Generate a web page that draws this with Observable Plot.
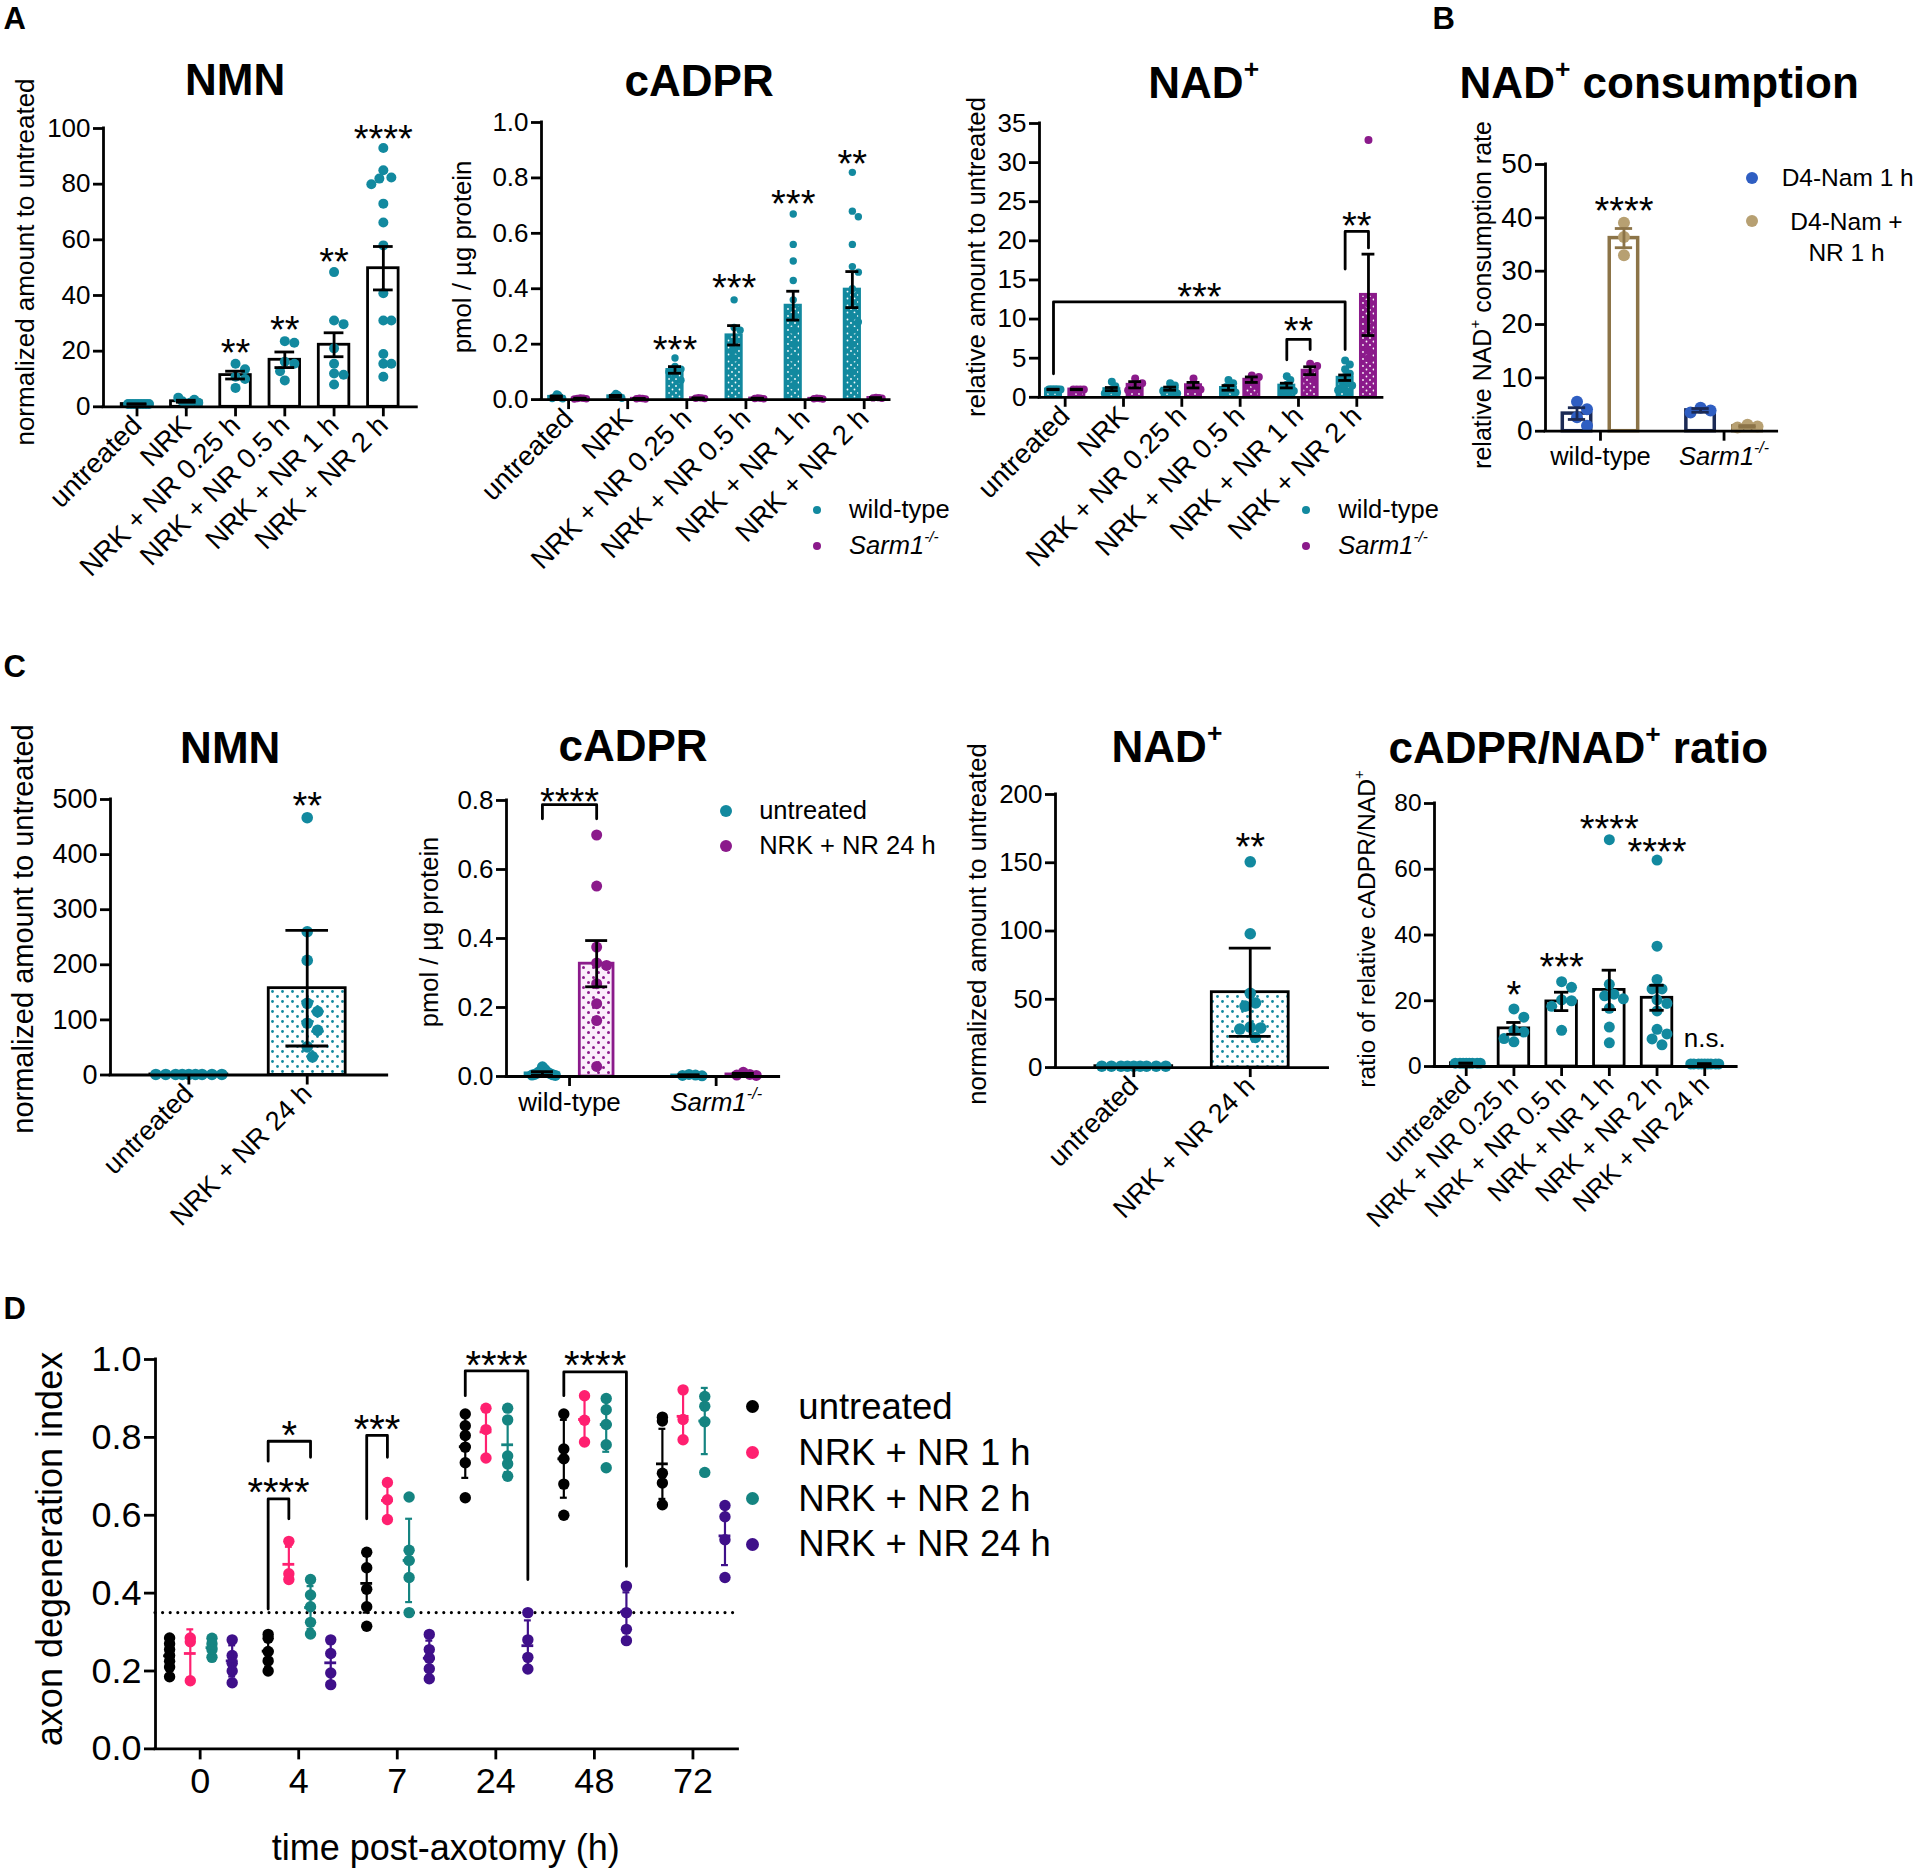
<!DOCTYPE html>
<html>
<head>
<meta charset="utf-8">
<script src="https://cdn.jsdelivr.net/npm/d3@7"></script>
<script src="https://cdn.jsdelivr.net/npm/@observablehq/plot@0.6"></script>
<style>
html,body{margin:0;padding:0;background:#fff;}
#fig{position:relative;width:1920px;height:1874px;overflow:hidden;font-family:"Liberation Sans",Arial,Helvetica,sans-serif;color:#000;background:#fff;}
.h{position:absolute;white-space:nowrap;line-height:1;}
.h sup{font-size:0.6em;position:relative;top:-0.75em;vertical-align:baseline;line-height:0;}
.dot{position:absolute;border-radius:50%;}
</style>
</head>
<body>
<div id="fig"></div>
<script>
// ================= DATA =================
// Panel A
const aCats = ["untreated", "NRK", "NRK + NR 0.25 h", "NRK + NR 0.5 h", "NRK + NR 1 h", "NRK + NR 2 h"];
const aNmnMean = [1, 2.0, 11.4, 16.9, 22.3, 49.8];
const aNmnSem = [0.05, 0.35, 1.4, 2.8, 4.3, 7.8];
const aNmnPoints = [
  [1, 1, 1, 1, 1, 1, 1, 1],
  [1.0, 1.5, 2.0, 2.5, 3.3, 1.5],
  [15.5, 13.5, 10.8, 10.0, 6.8],
  [23.6, 23.0, 16.2, 15.5, 12.8, 9.5],
  [48.4, 31.0, 29.7, 21.0, 15.5, 12.0, 11.5, 8.0],
  [93, 85, 82.4, 82, 80, 73, 66.2, 58, 40.8, 31, 31, 19, 15.5, 15.5, 10.8]
];
const aNmnStars = ["", "", "**", "**", "**", "****"];
const aNmnStarY = [0, 0, 22.7, 31, 55.2, 99.3];

const aCadprWtMean = [0.010, 0.012, 0.107, 0.232, 0.339, 0.397];
const aCadprWtSem = [0.003, 0.003, 0.012, 0.035, 0.052, 0.065];
const aCadprKoMean = [0.004, 0.003, 0.005, 0.004, 0.003, 0.006];
const aCadprKoSem = [0.001, 0.001, 0.001, 0.001, 0.001, 0.001];
const aCadprWtPoints = [
  [0.02, 0.018, 0.012, 0.01, 0.008, 0.006, 0.004, 0.003],
  [0.022, 0.018, 0.014, 0.01, 0.008, 0.005],
  [0.15, 0.12, 0.11, 0.10, 0.09, 0.07],
  [0.36, 0.26, 0.25, 0.21, 0.18, 0.15],
  [0.67, 0.56, 0.50, 0.43, 0.36, 0.30, 0.25, 0.2, 0.15, 0.1, 0.05],
  [0.82, 0.68, 0.66, 0.56, 0.48, 0.46, 0.40, 0.35, 0.3, 0.28, 0.25, 0.2, 0.15, 0.1]
];
const aCadprKoPoints = [
  [0.006, 0.005, 0.004, 0.003, 0.002],
  [0.005, 0.004, 0.003, 0.002],
  [0.007, 0.006, 0.005, 0.004],
  [0.006, 0.005, 0.004, 0.003],
  [0.005, 0.004, 0.003, 0.002],
  [0.008, 0.007, 0.006, 0.005]
];
const aCadprStars = ["", "", "***", "***", "***", "**"];
const aCadprStarY = [0, 0, 0.211, 0.435, 0.739, 0.882];

const aNadWtMean = [1.0, 1.05, 1.1, 1.2, 1.5, 2.5];
const aNadWtSem = [0.03, 0.2, 0.2, 0.3, 0.3, 0.35];
const aNadKoMean = [1.0, 1.6, 1.55, 2.25, 3.4, 13.1];
const aNadKoSem = [0.03, 0.4, 0.35, 0.35, 0.5, 5.2];
const aNadWtPoints = [
  [1, 1, 1, 1, 1, 1, 1, 1],
  [2.0, 1.4, 1.0, 0.8, 0.6, 0.5],
  [1.8, 1.5, 1.0, 0.8, 0.6, 0.5],
  [2.2, 1.8, 1.3, 1.0, 0.6, 0.4],
  [2.7, 2.2, 1.6, 1.2, 1.0, 0.8, 0.5],
  [4.7, 4.2, 3.6, 3.0, 2.6, 2.2, 1.8, 1.5, 1.2, 0.9, 0.6]
];
const aNadKoPoints = [
  [1, 1, 1, 1],
  [2.4, 1.8, 1.2, 0.9],
  [2.4, 1.6, 1.2, 1.0],
  [2.8, 2.6, 2.0, 1.5],
  [4.3, 4.0, 3.1, 2.2],
  [32.9, 12, 10, 9, 6, 5]
];
const aNadBrackets = [
  {ga: 0, sa: 0, gb: 5, sb: 0, y: 12.2, ya: 3.0, yb: 6.1, label: "***", ly: 14.0},
  {ga: 4, sa: 0, gb: 4, sb: 1, y: 7.4, ya: 4.8, yb: 6.1, label: "**", ly: 9.6},
  {ga: 5, sa: 0, gb: 5, sb: 1, y: 21.2, ya: 16.4, yb: 19.1, label: "**", ly: 23.0}
];

// Panel B
const bCats = ["wild-type", "Sarm1-/-"];
const bNamMean = [3.3, 3.9];
const bNamSem = [1.1, 0.35];
const bNamPoints = [[5.5, 4.1, 2.6, 1.0], [4.4, 3.9, 3.5]];
const bNamNrMean = [36.2, 0.9];
const bNamNrSem = [1.8, 0.15];
const bNamNrPoints = [[39.1, 36.4, 33.0], [1.2, 0.9, 0.7]];
const bStars = [{g: 0, s: 1, label: "****", y: 43}];

// Panel C
const cTwoCats = ["untreated", "NRK + NR 24 h"];
const cNmnMean = [1, 157.6];
const cNmnSd = [0, 105];
const cNmnPoints = [[1, 1, 1, 1, 1, 1, 1, 1, 1], [467, 260, 208, 130, 115, 94, 81, 51, 33]];
const cNmnStars = [{g: 1, label: "**", y: 505}];

const cCadprCats = ["wild-type", "Sarm1-/-"];
const cCadprUntMean = [0.009, 0.003];
const cCadprUntErr = [0.005, 0.002];
const cCadprUntPoints = [[0.028, 0.02, 0.015, 0.012, 0.01, 0.008, 0.006, 0.005, 0.004, 0.003], [0.006, 0.004, 0.003, 0.002]];
const cCadprNrMean = [0.327, 0.006];
const cCadprNrErr = [0.067, 0.003];
const cCadprNrPoints = [[0.70, 0.552, 0.375, 0.329, 0.322, 0.269, 0.211, 0.162, 0.029], [0.012, 0.006, 0.004, 0.003]];
const cCadprBrackets = [{ga: 0, sa: 0, gb: 0, sb: 1, y: 0.788, ya: 0.747, yb: 0.747, label: "****", ly: 0.822}];

const cNadMean = [1, 55.2];
const cNadSd = [0, 32.3];
const cNadPoints = [[1, 1, 1, 1, 1, 1, 1, 1, 1], [150.7, 98, 54.4, 47.3, 45, 29.6, 29, 28.2, 22]];
const cNadStars = [{g: 1, label: "**", y: 168}];

const cRatioCats = ["untreated", "NRK + NR 0.25 h", "NRK + NR 0.5 h", "NRK + NR 1 h", "NRK + NR 2 h", "NRK + NR 24 h"];
const cRatioMean = [1, 11.6, 19.8, 23.3, 20.9, 0.8];
const cRatioErr = [0.05, 1.8, 2.8, 6.0, 3.8, 0.05];
const cRatioPoints = [
  [1, 1, 1, 1, 1, 1, 1, 1],
  [17.5, 15, 11, 10.5, 8.5, 7.5],
  [25.8, 24.1, 20.3, 20, 18.3, 11],
  [69, 25, 22, 21.5, 20.6, 17.7, 12, 7.2],
  [62.8, 36.6, 26.5, 23.6, 23.6, 20.3, 19.2, 16.9, 11.3, 9.9, 8.4, 6.6],
  [0.8, 0.8, 0.8, 0.8, 0.8, 0.8, 0.8, 0.8, 0.8]
];
const cRatioStars = [
  {g: 1, label: "*", y: 24.4}, {g: 2, label: "***", y: 32.9}, {g: 3, label: "****", y: 75},
  {g: 4, label: "****", y: 68}, {g: 5, label: "n.s.", y: 8.5}
];

// Panel D
const dTimes = ["0", "4", "7", "24", "48", "72"];
const dSeriesNames = ["untreated", "NRK + NR 1 h", "NRK + NR 2 h", "NRK + NR 24 h"];
const dUntreatedPts = [
  [0.285, 0.27, 0.255, 0.24, 0.225, 0.21, 0.185],
  [0.294, 0.284, 0.25, 0.226, 0.2],
  [0.505, 0.465, 0.41, 0.365, 0.315],
  [0.86, 0.83, 0.805, 0.775, 0.735, 0.645],
  [0.86, 0.77, 0.745, 0.68, 0.60],
  [0.852, 0.842, 0.708, 0.683, 0.627]
];
const dNr1Pts = [
  [0.285, 0.275, 0.175], [0.533, 0.45, 0.435], [0.684, 0.64, 0.589],
  [0.875, 0.82, 0.747], [0.907, 0.844, 0.788], [0.922, 0.846, 0.794]
];
const dNr2Pts = [
  [0.284, 0.27, 0.255, 0.235],
  [0.435, 0.395, 0.365, 0.325, 0.295],
  [0.647, 0.51, 0.484, 0.44, 0.35],
  [0.875, 0.845, 0.752, 0.732, 0.70],
  [0.9, 0.871, 0.833, 0.781, 0.722],
  [0.905, 0.88, 0.84, 0.71]
];
const dNr24Pts = [
  [0.28, 0.24, 0.22, 0.2, 0.17],
  [0.28, 0.245, 0.195, 0.165],
  [0.294, 0.255, 0.233, 0.206, 0.18],
  [0.35, 0.28, 0.235, 0.205],
  [0.418, 0.35, 0.307, 0.278],
  [0.625, 0.596, 0.537, 0.44]
];
const dUntreatedMean = [0.239, 0.251, 0.425, 0.776, 0.745, 0.732];
const dUntreatedSd = [0.035, 0.04, 0.075, 0.08, 0.1, 0.09];
const dNr1Mean = [0.245, 0.474, 0.638, 0.814, 0.846, 0.854];
const dNr1Sd = [0.062, 0.045, 0.045, 0.064, 0.06, 0.065];
const dNr2Mean = [0.26, 0.363, 0.484, 0.781, 0.833, 0.842];
const dNr2Sd = [0.02, 0.055, 0.107, 0.07, 0.07, 0.085];
const dNr24Mean = [0.226, 0.221, 0.233, 0.265, 0.352, 0.547];
const dNr24Sd = [0.04, 0.05, 0.045, 0.065, 0.05, 0.075];
const dThreshold = [0.35];
const dBrackets = [
  {ga: 1, sa: 0, gb: 1, sb: 1, y: 0.642, ya: 0.359, yb: 0.591, label: "****", ly: 0.683},
  {ga: 1, sa: 0, gb: 1, sb: 2, y: 0.79, ya: 0.739, yb: 0.749, label: "*", ly: 0.83},
  {ga: 2, sa: 0, gb: 2, sb: 1, y: 0.805, ya: 0.591, yb: 0.749, label: "***", ly: 0.844},
  {ga: 3, sa: 0, gb: 3, sb: 3, y: 0.971, ya: 0.907, yb: 0.435, label: "****", ly: 1.01},
  {ga: 4, sa: 0, gb: 4, sb: 3, y: 0.968, ya: 0.907, yb: 0.469, label: "****", ly: 1.01}
];

// ================= STYLE / LAYOUT =================
const K = 1920 / 1568;
const FONT = '"Liberation Sans", Arial, Helvetica, sans-serif';
const SW = 2.8;
const TEAL = "#12899f", PURPLE = "#8b1a8b";
const BLUE = "#2f5ec2", NAVY = "#1b2a55", TAN = "#b7a072", TAN_D = "#8c7448";
const D_COLORS = ["#000000", "#ff2070", "#158481", "#3f108a"];

const fig = document.getElementById("fig");
fig.insertAdjacentHTML("beforeend", `<svg width="0" height="0" style="position:absolute"><defs>
<pattern id="tealSpeck" width="7" height="7" patternUnits="userSpaceOnUse"><rect width="7" height="7" fill="${TEAL}"/><circle cx="1.5" cy="1.5" r="0.9" fill="#fff"/><circle cx="5" cy="5" r="0.9" fill="#fff"/></pattern>
<pattern id="purpleSpeck" width="7" height="7" patternUnits="userSpaceOnUse"><rect width="7" height="7" fill="${PURPLE}"/><circle cx="1.5" cy="1.5" r="0.9" fill="#fff"/><circle cx="5" cy="5" r="0.9" fill="#fff"/></pattern>
<pattern id="tealDots" width="10" height="10" patternUnits="userSpaceOnUse"><rect width="10" height="10" fill="#fff"/><circle cx="2.5" cy="2.5" r="1.4" fill="${TEAL}"/><circle cx="7.5" cy="7.5" r="1.4" fill="${TEAL}"/></pattern>
<pattern id="purpleDots" width="10" height="10" patternUnits="userSpaceOnUse"><rect width="10" height="10" fill="#fbeefb"/><circle cx="2.5" cy="2.5" r="1.5" fill="${PURPLE}"/><circle cx="7.5" cy="7.5" r="1.5" fill="${PURPLE}"/></pattern>
</defs></svg>`);

// simple beeswarm: pixel-space collision avoidance, then squeezed to a maximum half-width
function swarm(vals, cx, r, pxX, pxY, gap, maxHalf) {
  const placed = [];
  const offs = vals.map(v => {
    const yp = v * pxY;
    let off = 0;
    for (let i = 0; i < 120; i++) {
      const c = i === 0 ? 0 : (i % 2 ? 1 : -1) * Math.ceil(i / 2) * r * gap * 0.5;
      if (placed.every(p => Math.hypot(p.x - c, p.y - yp) >= r * gap)) { off = c; break; }
    }
    placed.push({x: off, y: yp});
    return off;
  });
  const m = d3.max(offs, Math.abs) || 0;
  const f = maxHalf && m > maxHalf ? maxHalf / m : 1;
  return offs.map(o => cx + o * f / pxX);
}

function richLabels(svg) {
  const ns = "http://www.w3.org/2000/svg";
  svg.querySelectorAll("text").forEach(t => {
    if (t.textContent === "Sarm1-/-") {
      t.textContent = "";
      const a = document.createElementNS(ns, "tspan");
      a.textContent = "Sarm1"; a.setAttribute("font-style", "italic");
      const b = document.createElementNS(ns, "tspan");
      b.textContent = "-/-"; b.setAttribute("font-style", "italic");
      b.setAttribute("font-size", "0.62em"); b.setAttribute("dy", "-0.75em");
      t.append(a, b);
    }
  });
}

function buildPanel(p) {
  const fw = (p.L.x1 - p.L.x0) * K, fh = (p.L.y0 - p.L.yTop) * K;
  const pxX = fw / (p.xDomain[1] - p.xDomain[0]);
  const pxY = fh / (p.yDomain[1] - p.yDomain[0]);
  const M = Object.assign({l: 80, r: 30, t: 70, b: 200}, p.margins || {});
  const pos = (g, s) => g + p.series[s].offset;
  const marks = [];
  p.series.forEach(s => {
    if (!s.width) return;
    const bars = s.means.map((m, i) => ({x: i + s.offset, y: m}));
    marks.push(Plot.rectY(bars, {x1: d => d.x - s.width / 2, x2: d => d.x + s.width / 2, y1: () => 0, y2: "y",
      fill: s.barFill, stroke: s.barStroke, strokeWidth: s.barW || SW}));
  });
  if (p.refLine) marks.push(Plot.ruleY(p.refLine, {x1: () => p.xDomain[0], x2: () => p.xDomain[1], stroke: "#000",
    strokeWidth: 3.2, strokeDasharray: "0 7.6", strokeLinecap: "round"}));
  p.series.forEach(s => {
    const pts = [];
    s.points.forEach((vals, i) => {
      const xs = s.jitter === false ? vals.map(() => i + s.offset) : swarm(vals, i + s.offset, s.r, pxX, pxY, s.gap || 1.8, s.maxHalf);
      vals.forEach((v, j) => pts.push({x: xs[j], y: v}));
    });
    marks.push(Plot.dot(pts, {x: "x", y: "y", r: s.r, fill: s.dot, stroke: "none"}));
  });
  p.series.forEach(s => {
    const e = s.means.map((m, i) => ({x: i + s.offset, m, lo: Math.max(0, m - s.errs[i]), hi: m + s.errs[i]})).filter((d, i) => s.errs[i] > 0);
    const c = s.errColor || "#000", w = s.errW || SW;
    marks.push(Plot.ruleX(e, {x: "x", y1: "lo", y2: "hi", stroke: c, strokeWidth: w}));
    marks.push(Plot.ruleY(e, {y: "hi", x1: d => d.x - s.cap / 2, x2: d => d.x + s.cap / 2, stroke: c, strokeWidth: w}));
    marks.push(Plot.ruleY(e, {y: "lo", x1: d => d.x - s.cap / 2, x2: d => d.x + s.cap / 2, stroke: c, strokeWidth: w}));
    if (s.meanW) marks.push(Plot.ruleY(e, {y: "m", x1: d => d.x - s.meanW / 2, x2: d => d.x + s.meanW / 2, stroke: c, strokeWidth: w + 0.6}));
  });
  if (p.brackets) {
    const path = [];
    p.brackets.forEach((b, k) => {
      const xa = pos(b.ga, b.sa), xb = pos(b.gb, b.sb);
      path.push({k, x: xa, y: b.ya}, {k, x: xa, y: b.y}, {k, x: xb, y: b.y}, {k, x: xb, y: b.yb});
    });
    marks.push(Plot.line(path, {x: "x", y: "y", z: "k", stroke: "#000", strokeWidth: SW}));
    marks.push(Plot.text(p.brackets, {x: b => (pos(b.ga, b.sa) + pos(b.gb, b.sb)) / 2, y: "ly", text: "label",
      fontSize: p.starFont, lineAnchor: "middle", dy: p.starFont * 0.26}));
  }
  if (p.stars) {
    const st = p.stars.filter(d => d.label.includes("*"));
    const ns = p.stars.filter(d => !d.label.includes("*"));
    const sx = d => d.g + p.series[d.s || 0].offset;
    marks.push(Plot.text(st, {x: sx, y: "y", text: "label", fontSize: p.starFont, lineAnchor: "middle", dy: p.starFont * 0.26}));
    if (ns.length) marks.push(Plot.text(ns, {x: sx, y: "y", text: "label", fontSize: p.xFont, lineAnchor: "middle"}));
  }
  marks.push(Plot.ruleY([p.yDomain[0]], {x1: () => p.xDomain[0], x2: () => p.xDomain[1], stroke: "#000", strokeWidth: SW, strokeLinecap: "square"}));
  marks.push(Plot.ruleX([p.xDomain[0]], {y1: () => p.yDomain[0], y2: () => p.yDomain[1], stroke: "#000", strokeWidth: SW, strokeLinecap: "square"}));
  marks.push(Plot.axisY({ticks: p.yTicks, tickFormat: p.yFmt, tickSize: p.tickSize || 10, tickPadding: 3,
    strokeWidth: SW, fontSize: p.yFont, label: null}));
  const xOpts = {ticks: d3.range(p.cats.length), tickFormat: i => p.cats[i], tickSize: p.tickSize || 10,
    tickPadding: p.xPad || 4, strokeWidth: SW, fontSize: p.xFont, label: null};
  if (p.rotate) Object.assign(xOpts, {tickRotate: p.rotate, textAnchor: "end", lineAnchor: "middle"});
  marks.push(Plot.axisX(xOpts));

  const svg = Plot.plot({
    width: M.l + fw + M.r, height: M.t + fh + M.b,
    marginLeft: M.l, marginRight: M.r, marginTop: M.t, marginBottom: M.b,
    x: {type: "linear", domain: p.xDomain},
    y: {type: "linear", domain: p.yDomain},
    style: {fontFamily: FONT, fontSize: p.xFont + "px", color: "#000", background: "transparent", overflow: "visible", maxWidth: "none"},
    marks
  });
  richLabels(svg);
  const wrap = document.createElement("div");
  wrap.style.cssText = `position:absolute;left:${p.L.x0 * K - M.l}px;top:${p.L.yTop * K - M.t}px;`;
  wrap.appendChild(svg);
  fig.appendChild(wrap);
}

function text(html, sx, sy, size, opt = {}) {
  const d = document.createElement("div");
  d.className = "h";
  d.innerHTML = html;
  d.style.left = sx * K + "px";
  d.style.top = sy * K + "px";
  d.style.fontSize = size + "px";
  if (opt.bold) d.style.fontWeight = "bold";
  if (opt.lh) { d.style.lineHeight = opt.lh + "px"; d.style.textAlign = "center"; }
  d.style.transform = opt.rotate ? "translate(-50%,-50%) rotate(-90deg)" : opt.left ? "translate(0,-50%)" : opt.top ? "translate(-50%,0)" : "translate(-50%,-50%)";
  fig.appendChild(d);
}
function legendDot(color, sx, sy, r) {
  const d = document.createElement("div");
  d.className = "dot";
  d.style.cssText += `left:${sx * K - r}px;top:${sy * K - r}px;width:${2 * r}px;height:${2 * r}px;background:${color};`;
  fig.appendChild(d);
}
function legend(items, sx, sy, rowH, r, size, dx) {
  items.forEach((it, i) => {
    legendDot(it.color, sx, sy + i * rowH, r);
    text(it.label, sx + dx, sy + i * rowH, size, {left: true});
  });
}

// ================= PANELS =================
const ticks = (a, b, s) => d3.range(a, b + s / 2, s).map(v => +v.toFixed(6));

// A - NMN
buildPanel({
  L: {x0: 84.4, x1: 340.3, yTop: 104.5, y0: 331.8},
  xDomain: [-0.68, 5.68], yDomain: [0, 100], yTicks: ticks(0, 100, 20), yFmt: d3.format("d"),
  cats: aCats, rotate: -45, xFont: 27.5, yFont: 26, starFont: 38,
  series: [{offset: 0, width: 0.62, means: aNmnMean, errs: aNmnSem, points: aNmnPoints, barFill: "#fff", barStroke: "#000", dot: TEAL, r: 5, cap: 0.4, gap: 1.9, maxHalf: 12}],
  stars: aNmnStars.map((label, g) => ({g, label, y: aNmnStarY[g]})).filter(d => d.label)
});
// A - cADPR
buildPanel({
  L: {x0: 442.2, x1: 726.5, yTop: 100, y0: 326.3},
  xDomain: [-0.458, 5.43], yDomain: [0, 1], yTicks: ticks(0, 1, 0.2), yFmt: d3.format(".1f"),
  cats: aCats, rotate: -45, xFont: 27.5, yFont: 26, starFont: 38,
  series: [
    {offset: -0.2, width: 0.26, means: aCadprWtMean, errs: aCadprWtSem, points: aCadprWtPoints, barFill: "url(#tealSpeck)", barStroke: TEAL, dot: TEAL, r: 3.7, cap: 0.22, maxHalf: 6},
    {offset: 0.2, width: 0.26, means: aCadprKoMean, errs: aCadprKoSem, points: aCadprKoPoints, barFill: "url(#purpleSpeck)", barStroke: PURPLE, dot: PURPLE, r: 3.7, cap: 0.22, maxHalf: 6}
  ],
  stars: aCadprStars.map((label, g) => ({g, s: 0, label, y: aCadprStarY[g]})).filter(d => d.label)
});
// A - NAD+
buildPanel({
  L: {x0: 848.8, x1: 1128.9, yTop: 100.7, y0: 324.3},
  xDomain: [-0.44, 5.44], yDomain: [0, 35], yTicks: ticks(0, 35, 5), yFmt: d3.format("d"),
  cats: aCats, rotate: -45, xFont: 27.5, yFont: 26, starFont: 38,
  series: [
    {offset: -0.2, width: 0.26, means: aNadWtMean, errs: aNadWtSem, points: aNadWtPoints, barFill: "url(#tealSpeck)", barStroke: TEAL, dot: TEAL, r: 4, cap: 0.22, maxHalf: 7},
    {offset: 0.2, width: 0.26, means: aNadKoMean, errs: aNadKoSem, points: aNadKoPoints, barFill: "url(#purpleSpeck)", barStroke: PURPLE, dot: PURPLE, r: 4, cap: 0.22, maxHalf: 7}
  ],
  brackets: aNadBrackets
});
// B
buildPanel({
  L: {x0: 1261.8, x1: 1451, yTop: 134.2, y0: 352},
  xDomain: [-0.445, 1.43], yDomain: [0, 50], yTicks: ticks(0, 50, 10), yFmt: d3.format("d"),
  cats: bCats, rotate: 0, xFont: 25.5, yFont: 28, starFont: 38, xPad: 6,
  series: [
    {offset: -0.19, width: 0.23, means: bNamMean, errs: bNamSem, points: bNamPoints, barFill: "#fff", barStroke: NAVY, barW: 3.5, dot: BLUE, r: 6, cap: 0.14, errColor: NAVY, maxHalf: 10},
    {offset: 0.19, width: 0.23, means: bNamNrMean, errs: bNamNrSem, points: bNamNrPoints, barFill: "#fff", barStroke: TAN_D, barW: 3.5, dot: TAN, r: 6, cap: 0.14, errColor: TAN_D, maxHalf: 10}
  ],
  stars: bStars.map(d => ({g: d.g, s: d.s, label: d.label, y: d.y}))
});
// C - NMN
buildPanel({
  L: {x0: 89.8, x1: 315.8, yTop: 652.4, y0: 877.4},
  xDomain: [-0.662, 1.676], yDomain: [0, 500], yTicks: ticks(0, 500, 100), yFmt: d3.format("d"),
  cats: cTwoCats, rotate: -45, xFont: 27, yFont: 27, starFont: 38,
  series: [{offset: 0, width: 0.65, means: cNmnMean, errs: cNmnSd, points: cNmnPoints, barFill: "url(#tealDots)", barStroke: "#000", dot: TEAL, r: 5.8, cap: 0.36, maxHalf: 33}],
  stars: cNmnStars
});
// C - cADPR
buildPanel({
  L: {x0: 413.6, x1: 636.3, yTop: 653.3, y0: 878.7},
  xDomain: [-0.43, 1.43], yDomain: [0, 0.8], yTicks: ticks(0, 0.8, 0.2), yFmt: d3.format(".1f"),
  cats: cCadprCats, rotate: 0, xFont: 26, yFont: 26, starFont: 38, xPad: 6,
  series: [
    {offset: -0.185, width: 0.23, means: cCadprUntMean, errs: cCadprUntErr, points: cCadprUntPoints, barFill: "url(#tealSpeck)", barStroke: TEAL, dot: TEAL, r: 5.5, cap: 0.15, maxHalf: 13},
    {offset: 0.185, width: 0.23, means: cCadprNrMean, errs: cCadprNrErr, points: cCadprNrPoints, barFill: "url(#purpleDots)", barStroke: PURPLE, dot: PURPLE, r: 5.5, cap: 0.15, maxHalf: 13}
  ],
  brackets: cCadprBrackets
});
// C - NAD+
buildPanel({
  L: {x0: 861.4, x1: 1084, yTop: 648.5, y0: 871.5},
  xDomain: [-0.672, 1.668], yDomain: [0, 200], yTicks: ticks(0, 200, 50), yFmt: d3.format("d"),
  cats: cTwoCats, rotate: -45, xFont: 27, yFont: 26, starFont: 38,
  series: [{offset: 0, width: 0.66, means: cNadMean, errs: cNadSd, points: cNadPoints, barFill: "url(#tealDots)", barStroke: "#000", dot: TEAL, r: 5.8, cap: 0.36, maxHalf: 32}],
  stars: cNadStars
});
// C - ratio
buildPanel({
  L: {x0: 1171, x1: 1417.8, yTop: 655.8, y0: 870.6},
  xDomain: [-0.665, 5.67], yDomain: [0, 80], yTicks: ticks(0, 80, 20), yFmt: d3.format("d"),
  cats: cRatioCats, rotate: -45, xFont: 26, yFont: 24.5, starFont: 38,
  series: [{offset: 0, width: 0.64, means: cRatioMean, errs: cRatioErr, points: cRatioPoints, barFill: "#fff", barStroke: "#000", dot: TEAL, r: 5.5, cap: 0.3, maxHalf: 14}],
  stars: cRatioStars
});
// D
const dOffsets = [-0.31, -0.1, 0.12, 0.325];
const dPts = [dUntreatedPts, dNr1Pts, dNr2Pts, dNr24Pts];
const dMeans = [dUntreatedMean, dNr1Mean, dNr2Mean, dNr24Mean];
const dSds = [dUntreatedSd, dNr1Sd, dNr2Sd, dNr24Sd];
buildPanel({
  L: {x0: 126.9, x1: 602.6, yTop: 1110, y0: 1428},
  xDomain: [-0.453, 5.457], yDomain: [0, 1], yTicks: ticks(0, 1, 0.2), yFmt: d3.format(".1f"),
  cats: dTimes, rotate: 0, xFont: 36, yFont: 36, starFont: 40, tickSize: 11, xPad: 8,
  refLine: dThreshold,
  series: dSeriesNames.map((n, k) => ({offset: dOffsets[k], width: 0, means: dMeans[k], errs: dSds[k], points: dPts[k],
    dot: D_COLORS[k], r: 5.7, cap: 0.07, meanW: 0.12, errColor: D_COLORS[k], errW: 2.2, jitter: false})),
  brackets: dBrackets
});

// ================= TEXT: letters, titles, axis titles, legends =================
const panelLetters = [["A", 12, 15], ["B", 1179, 15], ["C", 12, 544], ["D", 12, 1068]];
panelLetters.forEach(([t, x, y]) => text(t, x, y, 31, {bold: true}));
const panelTitles = [
  ["NMN", 192, 65], ["cADPR", 571, 66], ["NAD<sup>+</sup>", 983, 68], ["NAD<sup>+</sup> consumption", 1355, 68],
  ["NMN", 188, 611], ["cADPR", 517, 609], ["NAD<sup>+</sup>", 953, 610], ["cADPR/NAD<sup>+</sup> ratio", 1289, 611]
];
panelTitles.forEach(([t, x, y]) => text(t, x, y, 44, {bold: true}));
const axisTitles = [
  ["normalized amount to untreated", 20.4, 214, 26], ["pmol / µg protein", 378.4, 209.6, 25.8],
  ["relative amount to untreated", 797.6, 209.6, 25.7], ["relative NAD<sup>+</sup> consumption rate", 1210, 241, 25],
  ["normalized amount to untreated", 19, 758.6, 29], ["pmol / µg protein", 351.5, 760.9, 25.5],
  ["normalized amount to untreated", 799, 754.6, 25.6], ["ratio of relative cADPR/NAD<sup>+</sup>", 1116, 758.6, 24.7],
  ["axon degeneration index", 40.8, 1265, 36]
];
axisTitles.forEach(([t, x, y, s]) => text(t, x, y, s, {rotate: true}));
text("time post-axotomy (h)", 364, 1509, 36);

const genotypeLegend = [{label: "wild-type", color: TEAL}, {label: "<i>Sarm1</i><sup><i>-/-</i></sup>", color: PURPLE}];
legend(genotypeLegend, 667, 416.3, 29.5, 4, 25.5, 26.4);
legend(genotypeLegend, 1066.6, 416.3, 29.5, 4, 25.5, 26.4);
legendDot(BLUE, 1430.5, 145.6, 6);
text("D4-Nam 1 h", 1455, 145.6, 24.5, {left: true});
legendDot(TAN, 1430.5, 180.5, 6);
text("D4-Nam +<br>NR 1 h", 1508, 168, 24.5, {top: true, lh: 31});
legend([{label: "untreated", color: TEAL}, {label: "NRK + NR 24 h", color: PURPLE}], 593, 662, 28.5, 6, 25.5, 27);
legend(dSeriesNames.map((n, k) => ({label: n, color: D_COLORS[k]})), 614.4, 1149, 37.4, 6.5, 36.5, 37.6);
</script>
</body>
</html>
